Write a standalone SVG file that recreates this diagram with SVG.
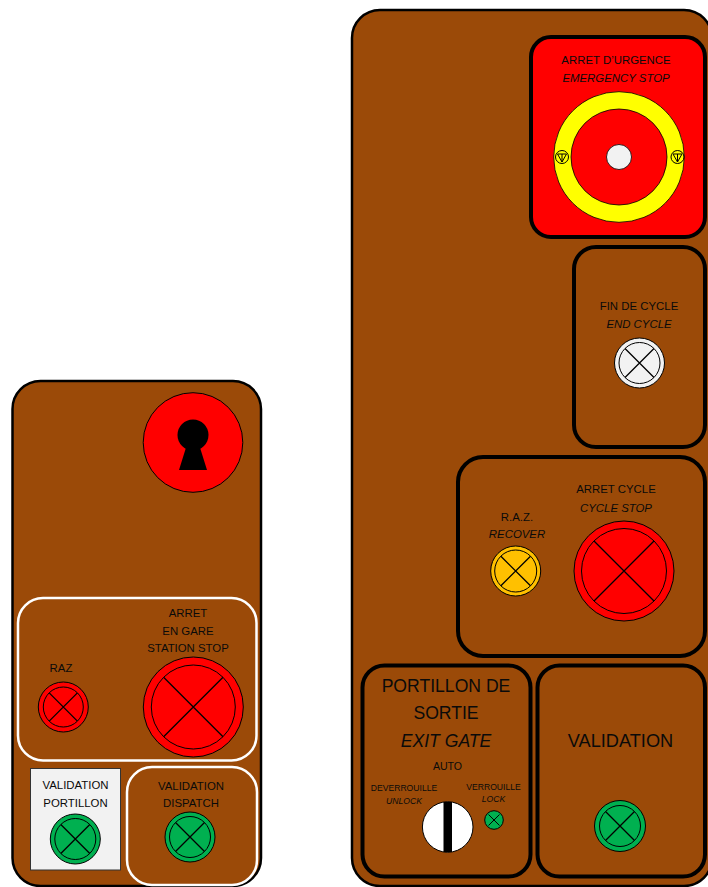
<svg xmlns="http://www.w3.org/2000/svg" width="708" height="887" viewBox="0 0 708 887">
<style>
.panel{fill:#9b4a08;stroke:#000;stroke-width:2.5}
.box{fill:#9b4a08;stroke:#000;stroke-width:4}
.wbox{fill:#9b4a08;stroke:#fff;stroke-width:2.5}
.ind{stroke:#000;stroke-width:1}
.ring{fill:none;stroke:#000;stroke-width:1}
.x{stroke:#000;stroke-width:1.3}
text{font-family:"Liberation Sans",Arial,sans-serif;fill:#0a0a0a;text-anchor:middle}
.s{font-size:11.4px}
.l{font-size:17.6px}
.t{font-size:8.6px}
.i{font-style:italic}
</style>
<rect width="708" height="887" fill="#fff"/>

<g id="left-panel">
<rect class="panel" x="12.5" y="381" width="248.5" height="505" rx="28"/>
</g>

<g id="key-switch">
<circle cx="193" cy="442.5" r="49.8" fill="#f00" stroke="#000" stroke-width="1"/>
<circle cx="193" cy="435" r="15.5" fill="#000"/>
<polygon points="186.5,446 199.5,446 207,470 179,470" fill="#000"/>
</g>

<g id="station-stop-group">
<rect class="wbox" x="18" y="598" width="238.5" height="162.5" rx="25"/>
<text class="s" x="188" y="617">ARRET</text>
<text class="s" x="188" y="635">EN GARE</text>
<text class="s" x="188" y="652">STATION STOP</text>
<text class="s" x="61" y="672">RAZ</text>
</g>

<g id="raz-left">
<circle class="ind" cx="63.3" cy="707" r="25" fill="#f00"/>
<circle class="ring" cx="63.3" cy="707" r="20"/>
<path class="x" d="M49.2,692.9 L77.4,721.1 M77.4,692.9 L49.2,721.1"/>
</g>

<g id="station-stop">
<circle class="ind" cx="193.3" cy="707" r="50" fill="#f00"/>
<circle class="ring" cx="193.3" cy="707" r="42"/>
<path class="x" d="M163.6,677.3 L223,736.7 M223,677.3 L163.6,736.7"/>
</g>

<g id="validation-portillon">
<rect x="30.5" y="768.5" width="90" height="101.5" fill="#f2f2f2" stroke="#333" stroke-width="1"/>
<text class="s" x="75.5" y="789">VALIDATION</text>
<text class="s" x="75.5" y="807">PORTILLON</text>
<circle class="ind" cx="75.3" cy="839" r="25" fill="#00b050"/>
<circle class="ring" cx="75.3" cy="839" r="20.5"/>
<path class="x" d="M60.8,824.5 L89.8,853.5 M89.8,824.5 L60.8,853.5"/>
</g>

<g id="validation-dispatch">
<rect class="wbox" x="127" y="767" width="130" height="118" rx="25"/>
<text class="s" x="191" y="790">VALIDATION</text>
<text class="s" x="191" y="807">DISPATCH</text>
<circle class="ind" cx="190" cy="837" r="25" fill="#00b050"/>
<circle class="ring" cx="190" cy="837" r="20.5"/>
<path class="x" d="M175.5,822.5 L204.5,851.5 M204.5,822.5 L175.5,851.5"/>
</g>

<g id="main-panel">
<rect class="panel" x="352" y="10" width="360" height="876" rx="28"/>
</g>

<g id="emergency-stop">
<rect x="531" y="37" width="174" height="200" rx="20" fill="#f00" stroke="#000" stroke-width="4"/>
<text class="s" x="616" y="64">ARRET D’URGENCE</text>
<text class="s i" x="616" y="81.5">EMERGENCY STOP</text>
<circle cx="619" cy="157" r="65.3" fill="#ff0" stroke="#000" stroke-width="0.8"/>
<circle cx="619" cy="157" r="48" fill="#f00" stroke="#000" stroke-width="0.8"/>
<circle cx="619" cy="157" r="12.5" fill="#f2f2f2" stroke="#000" stroke-width="0.8"/>
<g fill="none" stroke="#000" stroke-width="1">
<circle cx="562" cy="157" r="6.5"/>
<path d="M557.5,154 L566.5,154 L562,162 Z M562,154 L562,162"/>
<circle cx="677.5" cy="157" r="6.5"/>
<path d="M673,154 L682,154 L677.5,162 Z M677.5,154 L677.5,162"/>
</g>
</g>

<g id="end-cycle">
<rect class="box" x="574" y="247" width="131" height="200" rx="22"/>
<text class="s" x="639" y="310">FIN DE CYCLE</text>
<text class="s i" x="639" y="328">END CYCLE</text>
<circle class="ind" cx="639.5" cy="363" r="25" fill="#f2f2f2"/>
<circle class="ring" cx="639.5" cy="363" r="20.5"/>
<path class="x" d="M625,348.5 L654,377.5 M654,348.5 L625,377.5"/>
</g>

<g id="cycle-stop-group">
<rect class="box" x="458" y="457" width="247" height="199" rx="25"/>
<text class="s" x="517" y="521">R.A.Z.</text>
<text class="s i" x="517" y="538">RECOVER</text>
<text class="s" x="616" y="493">ARRET CYCLE</text>
<text class="s i" x="616" y="512">CYCLE STOP</text>
</g>

<g id="recover">
<circle class="ind" cx="515.7" cy="571" r="25" fill="#ffc000"/>
<circle class="ring" cx="515.7" cy="571" r="21"/>
<path class="x" d="M500.9,556.2 L530.5,585.8 M530.5,556.2 L500.9,585.8"/>
</g>

<g id="cycle-stop">
<circle class="ind" cx="624" cy="571" r="50" fill="#f00"/>
<circle class="ring" cx="624" cy="571" r="42.5"/>
<path class="x" d="M594,541 L654,601 M654,541 L594,601"/>
</g>

<g id="exit-gate">
<rect class="box" x="362.5" y="665.5" width="168" height="211" rx="22"/>
<text class="l" x="446" y="692">PORTILLON DE</text>
<text class="l" x="446" y="719">SORTIE</text>
<text class="l i" x="446" y="747">EXIT GATE</text>
<text class="s" x="447.5" y="770" style="font-size:10.6px">AUTO</text>
<text class="t" x="404" y="791">DEVERROUILLE</text>
<text class="t i" x="404" y="804">UNLOCK</text>
<text class="t" x="493.5" y="790">VERROUILLE</text>
<text class="t i" x="493.5" y="802">LOCK</text>
<circle cx="447.7" cy="827" r="25.3" fill="#fff" stroke="#000" stroke-width="1"/>
<rect x="443.5" y="802" width="8.5" height="50" fill="#000"/>
<circle class="ind" cx="494" cy="820" r="9.3" fill="#00b050"/>
<path class="x" d="M488.5,814.5 L499.5,825.5 M499.5,814.5 L488.5,825.5" style="stroke-width:1"/>
</g>

<g id="validation">
<rect class="box" x="537.5" y="665.5" width="167.5" height="211" rx="22"/>
<text class="l" x="620.5" y="747" style="font-size:18.2px">VALIDATION</text>
<circle class="ind" cx="620" cy="826" r="25.5" fill="#00b050"/>
<circle class="ring" cx="620" cy="826" r="20.5"/>
<path class="x" d="M605.5,811.5 L634.5,840.5 M634.5,811.5 L605.5,840.5"/>
</g>
</svg>
